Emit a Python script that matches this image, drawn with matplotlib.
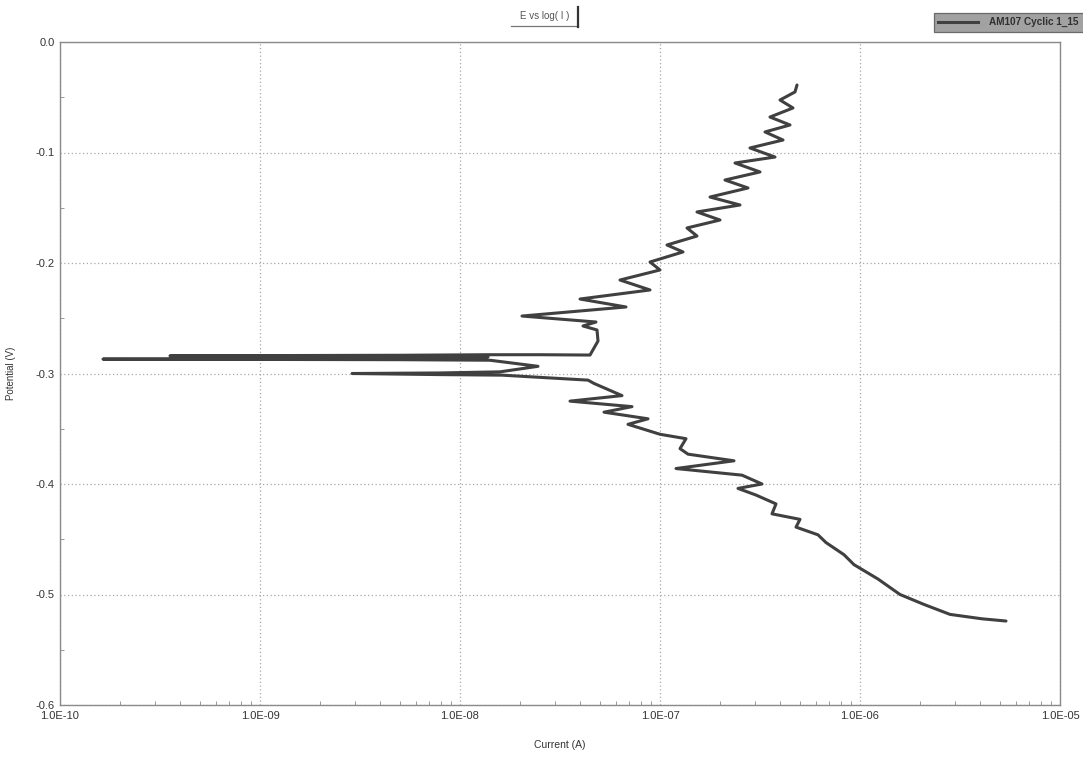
import numpy as np
import matplotlib
matplotlib.use('Agg')
import matplotlib.pyplot as plt
from matplotlib.lines import Line2D
from matplotlib.patches import Rectangle
from matplotlib.ticker import FixedLocator, FuncFormatter, MultipleLocator, LogLocator, NullFormatter

# scan data: log10(current / A) and potential (V), in scan order
log_i = [
    # cathodic branch
    -5.27, -5.39, -5.55, -5.68, -5.80, -5.91, -6.03, -6.08, -6.17, -6.21,
    -6.32, -6.30, -6.44, -6.42, -6.52, -6.61, -6.49, -6.59, -6.92, -6.63,
    -6.86, -6.90, -6.87, -7.00, -7.16, -7.06, -7.28, -7.14, -7.45, -7.19,
    -7.33, -7.36, -7.79,
    # around the corrosion potential
    -8.10, -8.54, -8.10, -7.80, -7.61, -7.85, -8.30, -9.785, -8.20, -7.87,
    -7.86, -8.50, -9.45, -8.30, -7.85, -7.60, -7.35,
    # anodic branch
    -7.31, -7.315, -7.385, -7.32, -7.69, -7.17, -7.40, -7.05, -7.20, -7.00,
    -7.05, -6.885, -6.965, -6.815, -6.865, -6.70, -6.815, -6.60, -6.75, -6.56,
    -6.675, -6.50, -6.625, -6.425, -6.55, -6.385, -6.475, -6.35, -6.45, -6.335,
    -6.40, -6.325, -6.315,
]
potential = [
    -0.524, -0.522, -0.518, -0.509, -0.500, -0.486, -0.473, -0.464, -0.453, -0.446,
    -0.439, -0.432, -0.427, -0.418, -0.410, -0.404, -0.400, -0.392, -0.386, -0.379,
    -0.373, -0.368, -0.359, -0.355, -0.346, -0.341, -0.335, -0.330, -0.325, -0.320,
    -0.309, -0.306, -0.3015,
    -0.3010, -0.3000, -0.2995, -0.2985, -0.2935, -0.2880, -0.2875, -0.2870, -0.2865, -0.2860,
    -0.2850, -0.2845, -0.2840, -0.2835, -0.2830, -0.2830, -0.2833,
    -0.2706, -0.2606, -0.2570, -0.2534, -0.2480, -0.2398, -0.2326, -0.2244, -0.2154, -0.2063,
    -0.1991, -0.1900, -0.1837, -0.1756, -0.1683, -0.1611, -0.1538, -0.1475, -0.1403, -0.1321,
    -0.1249, -0.1176, -0.1095, -0.1041, -0.0959, -0.0887, -0.0814, -0.0751, -0.0679, -0.0597,
    -0.0525, -0.0452, -0.0389,
]
x_ticks = [1e-10, 1e-9, 1e-8, 1e-7, 1e-6, 1e-5]
x_tick_labels = ['1.0E-10', '1.0E-09', '1.0E-08', '1.0E-07', '1.0E-06', '1.0E-05']
y_ticks = [0.0, -0.1, -0.2, -0.3, -0.4, -0.5, -0.6]
y_tick_labels = ['0.0', '-0.1', '-0.2', '-0.3', '-0.4', '-0.5', '-0.6']
series_name = 'AM107 Cyclic 1_15'

plt.rcParams['font.family'] = ['Liberation Sans', 'DejaVu Sans']

current = [10 ** v for v in log_i]

fig = plt.figure(figsize=(10.83, 7.59), dpi=100)
ax = fig.add_axes([60 / 1083, 54 / 759, 1000 / 1083, 663 / 759])

ax.plot(current, potential, color='#404040', linewidth=2.2,
        solid_joinstyle='round', solid_capstyle='round')

ax.set_xscale('log')
ax.set_xlim(1e-10, 1e-5)
ax.set_ylim(-0.6, 0.0)

ax.xaxis.set_major_locator(FixedLocator(x_ticks))
ax.set_xticklabels(x_tick_labels)
ax.xaxis.set_minor_locator(LogLocator(base=10, subs=np.arange(2, 10)))
ax.xaxis.set_minor_formatter(NullFormatter())
ax.yaxis.set_major_locator(FixedLocator(y_ticks))
ax.set_yticklabels(y_tick_labels)
ax.yaxis.set_minor_locator(MultipleLocator(0.05))

ax.tick_params(which='major', direction='in', length=0, labelsize=8, colors='#333333', pad=4)
ax.tick_params(which='minor', direction='in', length=3, color='#888888')

ax.grid(True, which='major', linestyle=(0, (1, 2)), color='#a8a8a8', linewidth=0.9)
for pos in ['right', 'top', 'bottom', 'left']:
    ax.spines[pos].set_color('#8a8a8a')
    ax.spines[pos].set_linewidth(1.0)

ax.set_xlabel('Current (A)', fontsize=7.5, color='#333333', labelpad=14)
ax.set_ylabel('Potential (V)', fontsize=7, color='#333333', labelpad=14)

# title tab at the top: text with an underline and a dark right edge
W, H = 1083, 759
fig.text(545 / W, 1 - 16 / H, 'E vs log( I )', ha='center', va='center', fontsize=7, color='#555555')
fig.add_artist(Line2D([511 / W, 578 / W], [1 - 26 / H, 1 - 26 / H], transform=fig.transFigure,
                      color='#777777', linewidth=0.9))
fig.add_artist(Line2D([578 / W, 578 / W], [1 - 27 / H, 1 - 7 / H], transform=fig.transFigure,
                      color='#333333', linewidth=1.6))

# legend bar in the top right corner, running off the edge
fig.add_artist(Rectangle((934 / W, 1 - 32 / H), 160 / W, 19 / H, transform=fig.transFigure,
                         facecolor='#a2a2a2', edgecolor='#6a6a6a', linewidth=0.9))
fig.add_artist(Line2D([938 / W, 978 / W], [1 - 22 / H, 1 - 22 / H], transform=fig.transFigure,
                      color='#404040', linewidth=2.2))
fig.text(989 / W, 1 - 22 / H, series_name, ha='left', va='center', fontsize=7.2,
         fontweight='bold', color='#303030')

plt.savefig('out.png', dpi=100)
